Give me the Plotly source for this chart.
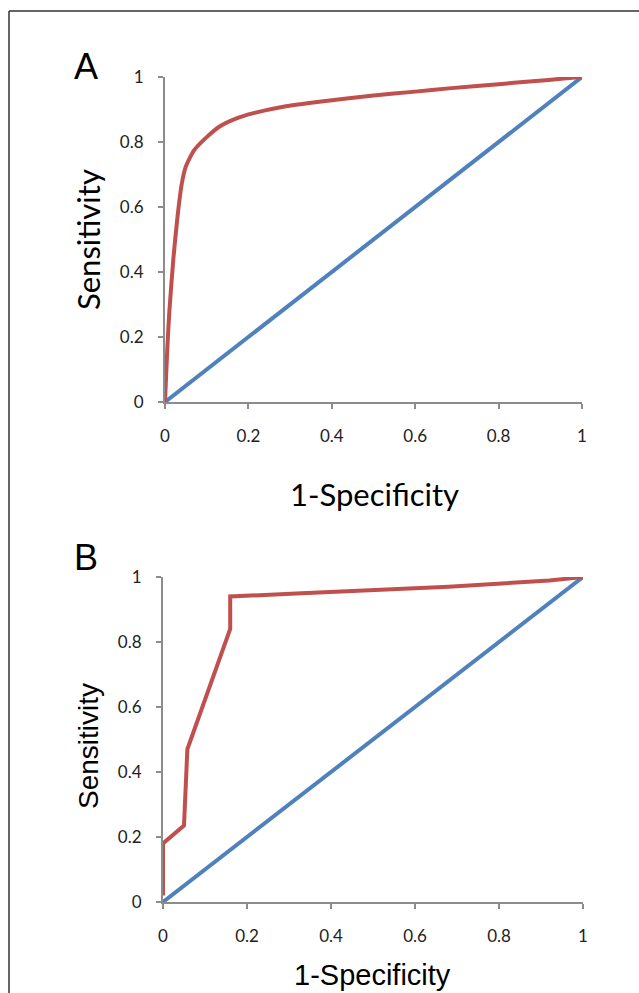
import plotly.graph_objects as go

# Panel A (smooth ROC)
a_fpr = [0, 0.005, 0.01, 0.02, 0.03, 0.04, 0.05, 0.07, 0.1, 0.13, 0.17, 0.21, 0.29, 0.37, 0.5, 0.6, 0.68, 0.8, 0.92, 0.97, 1.0]
a_tpr = [0, 0.15, 0.27, 0.44, 0.57, 0.67, 0.725, 0.775, 0.815, 0.847, 0.872, 0.888, 0.91, 0.924, 0.943, 0.955, 0.965, 0.978, 0.991, 0.997, 1.0]

# Panel B (stepwise ROC)
b_fpr = [0, 0, 0.05, 0.058, 0.16, 0.16, 0.33, 0.68, 0.92, 1.0]
b_tpr = [0.02, 0.18, 0.235, 0.47, 0.84, 0.94, 0.95, 0.97, 0.989, 1.0]

# Reference diagonal
diag = [0, 1]

tick_vals = [0, 0.2, 0.4, 0.6, 0.8, 1]
tick_text = ["0", "0.2", "0.4", "0.6", "0.8", "1"]

RED = "#C0504D"
BLUE = "#4F81BD"
AX = "#8C8C8C"
W, H = 639, 993

fig = go.Figure()
fig.add_trace(go.Scatter(x=diag, y=diag, mode="lines", line=dict(color=BLUE, width=4), xaxis="x", yaxis="y", showlegend=False))
fig.add_trace(go.Scatter(x=a_fpr, y=a_tpr, mode="lines", line=dict(color=RED, width=4, shape="spline", smoothing=0.6), xaxis="x", yaxis="y", showlegend=False))
fig.add_trace(go.Scatter(x=diag, y=diag, mode="lines", line=dict(color=BLUE, width=4), xaxis="x2", yaxis="y2", showlegend=False))
fig.add_trace(go.Scatter(x=b_fpr, y=b_tpr, mode="lines", line=dict(color=RED, width=4), xaxis="x2", yaxis="y2", showlegend=False))

def px_x(p):
    return p / W

def px_y(p):
    return 1 - p / H

tickfont = dict(family="Lato, Open Sans, sans-serif", size=17, color="#222")

def xax(dom, anchor):
    return dict(domain=dom, anchor=anchor, range=[0, 1], tickvals=tick_vals, ticktext=tick_text,
                showgrid=False, zeroline=False, showline=True, linecolor=AX, linewidth=2,
                ticks="outside", ticklen=5, tickwidth=1.5, tickcolor=AX, tickfont=tickfont,
                ticklabelstandoff=13, fixedrange=True)

def yax(dom, anchor):
    return dict(domain=dom, anchor=anchor, range=[0, 1], tickvals=tick_vals, ticktext=tick_text,
                showgrid=False, zeroline=False, showline=True, linecolor=AX, linewidth=2,
                ticks="outside", ticklen=5, tickwidth=1.5, tickcolor=AX, tickfont=tickfont,
                ticklabelstandoff=11, fixedrange=True)

fig.update_layout(
    width=W, height=H,
    margin=dict(l=0, r=0, t=0, b=0, autoexpand=False),
    paper_bgcolor="white", plot_bgcolor="white",
    xaxis=xax([px_x(165), px_x(582)], "y"),
    yaxis=yax([px_y(402), px_y(77)], "x"),
    xaxis2=xax([px_x(163), px_x(583)], "y2"),
    yaxis2=yax([px_y(902), px_y(577)], "x2"),
)

ann = []
calibri = "Lato, Open Sans, sans-serif"
arial = "Liberation Sans, Arial, sans-serif"
ann.append(dict(text="A", x=px_x(86), y=px_y(66), font=dict(family=arial, size=36, color="black")))
ann.append(dict(text="B", x=px_x(86), y=px_y(557), font=dict(family=arial, size=36, color="black")))
ann.append(dict(text="Sensitivity", x=px_x(88), y=px_y(240), textangle=-90, font=dict(family=calibri, size=31, color="black")))
ann.append(dict(text="Sensitivity", x=px_x(88), y=px_y(746), textangle=-90, font=dict(family=arial, size=28, color="black")))
ann.append(dict(text="1-Specificity", x=px_x(374), y=px_y(494), font=dict(family=calibri, size=31, color="black")))
ann.append(dict(text="1-Specificity", x=px_x(372), y=px_y(975), font=dict(family=arial, size=29, color="black")))
for a in ann:
    a.update(xref="paper", yref="paper", showarrow=False, xanchor="center", yanchor="middle")
fig.update_layout(annotations=ann)

fig.update_layout(shapes=[
    dict(type="line", xref="paper", yref="paper", x0=px_x(9), x1=1.0, y0=px_y(11), y1=px_y(11), line=dict(color="#333", width=1.5)),
    dict(type="line", xref="paper", yref="paper", x0=px_x(9), x1=px_x(9), y0=px_y(11), y1=0, line=dict(color="#333", width=1.5)),
])

fig.write_html("out.html", config={"displayModeBar": False},
               post_script="document.body.style.margin='0';document.body.style.overflow='hidden';")
